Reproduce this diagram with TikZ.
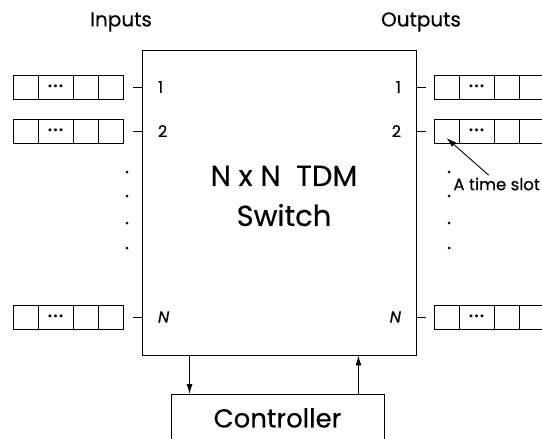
\documentclass[tikz,border=0pt]{standalone}
\usepackage{fontspec}
\setmainfont{Poppins}[FakeBold=0.4]
\usetikzlibrary{positioning,arrows.meta}

\tikzset{
  cell/.style={draw, minimum width=25pt, minimum height=24pt, inner sep=0pt, outer sep=0pt},
  wide cell/.style={cell, minimum width=35pt},
  port/.style={font=\fontsize{16}{18}\selectfont, inner sep=0pt},
  ctrl arrow/.style={-{Latex[length=10pt,width=6pt]}},
}
\newcommand{\slotdots}{{\fontsize{11}{11}\selectfont\textbullet\kern1pt\textbullet\kern1pt\textbullet}}

\begin{document}
\begin{tikzpicture}[x=1pt, y=-1pt, line width=0.9pt]
  \clip (0,0) rectangle (542,439);
  % switch and controller
  \node[draw, minimum width=274pt, minimum height=305pt, inner sep=0pt] (sw) at (279,202.5) {};
  \node[align=center, font=\fontsize{29}{40}\selectfont] (swtext) at (284,196) {N x N\ \ TDM\\Switch};
  \node[draw, anchor=north, minimum width=213pt, inner xsep=0pt, inner ysep=0pt,
        text height=33pt, text depth=30pt, font=\fontsize{26}{30}\selectfont] (ctrl) at (277.5,394) {Controller};
  \draw[ctrl arrow] ([xshift=19pt]ctrl.north west |- sw.south) -- ([xshift=19pt]ctrl.north west);
  \draw[ctrl arrow] ([xshift=-26pt]ctrl.north east) -- ([xshift=-26pt]ctrl.north east |- sw.south);

  % titles
  \node[font=\fontsize{20}{22}\selectfont] (intitle) at (121,22) {Inputs};
  \node[font=\fontsize{20}{22}\selectfont] (outtitle) at (421,22) {Outputs};

  % input and output queues
  \foreach \q/\y/\lab in {1/87/1, 2/131/2, n/317/{\textit{N}}} {
    \node[cell] (in\q a) at (25.5,\y) {};
    \node[wide cell, right=0pt of in\q a] (in\q b) {\slotdots};
    \node[cell, right=0pt of in\q b] (in\q c) {};
    \node[cell, right=0pt of in\q c] (in\q d) {};
    \coordinate (in\q t) at ([xshift=10pt]in\q d.east);
    \draw (in\q t) -- (in\q t -| sw.west);
    \node[port, anchor=west] at ([xshift=16pt]in\q t -| sw.west) {\lab};

    \node[cell] (out\q a) at (446.5,\y) {};
    \node[wide cell, right=0pt of out\q a] (out\q b) {\slotdots};
    \node[cell, right=0pt of out\q b] (out\q c) {};
    \node[cell, right=0pt of out\q c] (out\q d) {};
    \coordinate (out\q t) at ([xshift=-8pt]out\q a.west);
    \draw (out\q t) -- (out\q t -| sw.east);
    \node[port, anchor=east] at ([xshift=-15pt]out\q t -| sw.east) {\lab};
  }

  % vertical dots
  \foreach \y in {172,196,223,248} {
    \fill (127,\y) circle (1.5pt);
    \fill (449,\y) circle (1.5pt);
  }

  % time slot label
  \node[anchor=west, inner sep=0pt, font=\fontsize{16.5}{18}\selectfont] (slot) at (453,184) {A time slot};
  \draw[-{Latex[length=10pt,width=6pt]}] ([xshift=-8pt,yshift=2pt]slot.north) -- ([yshift=-7pt]out2a.center);
\end{tikzpicture}
\end{document}
